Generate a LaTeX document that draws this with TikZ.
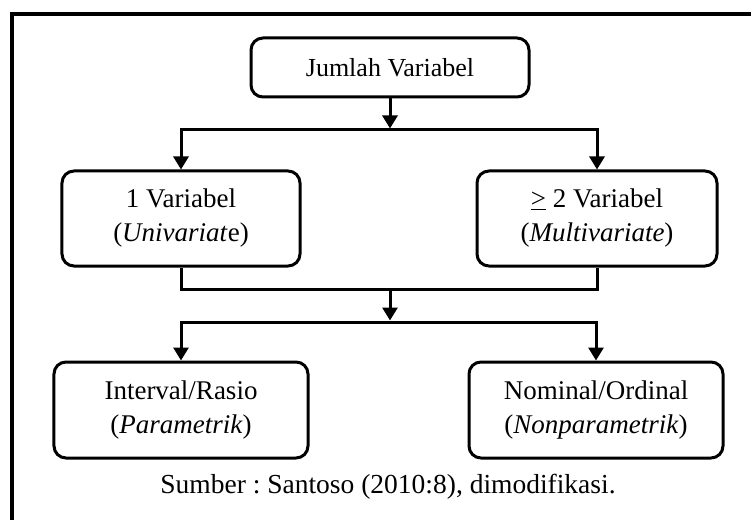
\documentclass[tikz,border=0pt]{standalone}
\usepackage{fontspec}
\setmainfont{Liberation Serif}
\usetikzlibrary{arrows.meta}
\frenchspacing
\begin{document}
\begin{tikzpicture}[x=1bp,y=-1bp,
  box/.style={draw=black,line width=3bp,rounded corners=12bp,align=center,
    inner sep=0pt,font=\fontsize{27bp}{34bp}\selectfont},
  conn/.style={line width=3bp},
  arr/.style={conn,-{Triangle[length=13bp,width=15bp]}}]
\useasboundingbox (0,0) rectangle (751,520);
% open frame: top and left edges only
\draw[line width=3.8bp] (12,520) -- (12,14) -- (751,14);

\node[box,minimum width=278bp,minimum height=59bp,
  font=\fontsize{26bp}{30bp}\selectfont] (top) at (390,67.5) {Jumlah Variabel};
\node[box,minimum width=238bp,minimum height=95bp] (uni) at (181,218.5)
  {1 Variabel\\(\textit{Univariat}e)};
\node[box,minimum width=240bp,minimum height=95bp] (multi) at (597,218.5)
  {\underline{>} 2 Variabel\\(\textit{Multivariate})};
\node[box,minimum width=254bp,minimum height=96bp] (para) at (181,410)
  {Interval/Rasio\\(\textit{Parametrik})};
\node[box,minimum width=254bp,minimum height=96bp] (nonpara) at (596,410)
  {Nominal/Ordinal\\(\textit{Nonparametrik})};

\node[font=\fontsize{27.5bp}{32bp}\selectfont,anchor=base] (src) at (388,493)
  {Sumber : Santoso (2010:8), dimodifikasi.};

% branch points
\coordinate (j1) at (390,130);
\coordinate (j2) at (390,289);
\coordinate (j3) at (390,322);

\draw[arr,shorten >=1.5bp] (top.south) -- (j1);
\draw[arr] (j1) -| (uni.north);
\draw[arr] (j1) -| (multi.north);
\draw[conn] (uni.south) |- (j2) -| (multi.south);
\draw[arr,shorten >=1.5bp] (j2) -- (j3);
\draw[arr] (j3) -| (para.north);
\draw[arr] (j3) -| (nonpara.north);
\end{tikzpicture}
\end{document}
